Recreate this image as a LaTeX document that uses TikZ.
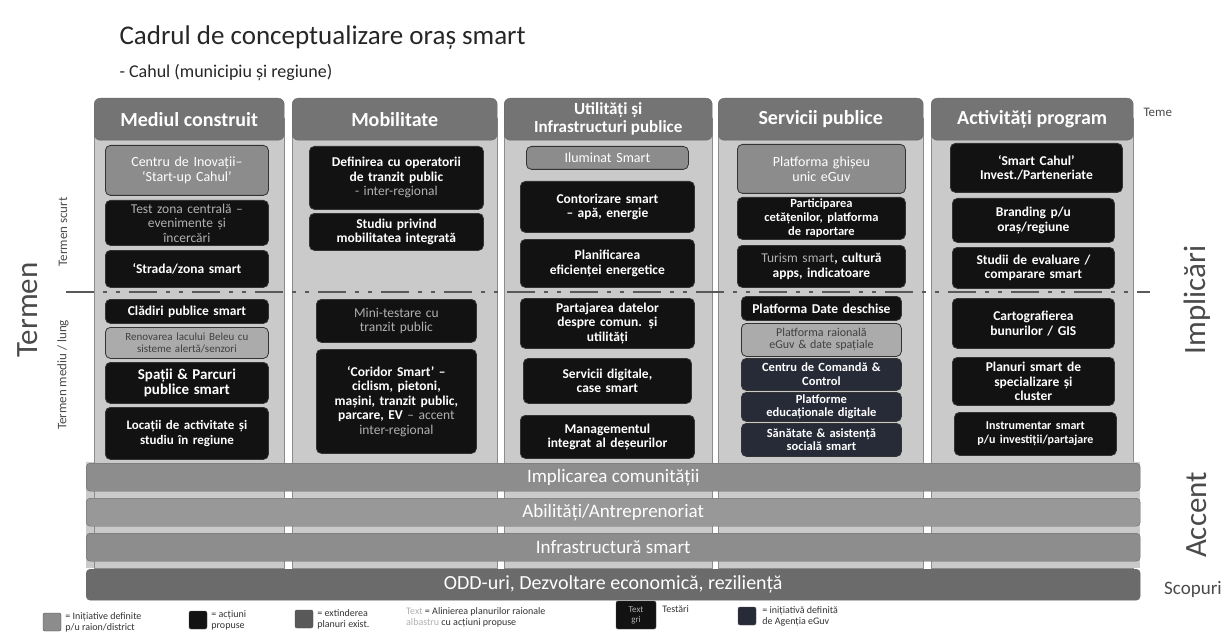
\documentclass[tikz,border=0pt]{standalone}
\usepackage{fontspec}
\setmainfont{Carlito}
\usetikzlibrary{positioning}

\definecolor{headgray}{HTML}{747474}
\definecolor{bodygray}{HTML}{CACACA}
\definecolor{initgray}{HTML}{8C8C8C}
\definecolor{paleinitgray}{HTML}{ABABAB}
\definecolor{actblack}{HTML}{121212}
\definecolor{eguvnavy}{HTML}{262B37}
\definecolor{aligntext}{HTML}{B0B0B0}
\definecolor{bargray}{HTML}{8D8D8D}
\definecolor{goalgray}{HTML}{6B6B6B}
\definecolor{labelgray}{HTML}{4A4A4A}

\tikzset{
  box/.style={rounded corners=5pt, draw=black!80, line width=0.8pt, align=center, inner sep=1pt,
    anchor=north west, text=white, font=\bfseries\fontsize{13.5}{14.5}\selectfont},
  actbox/.style={box, fill=actblack},
  testbox/.style={box, fill=actblack, text=aligntext, font=\fontsize{13.5}{14.5}\selectfont},
  initbox/.style={box, fill=initgray, font=\fontsize{14}{15}\selectfont},
  paleinit/.style={box, fill=paleinitgray, text=black!75, font=\fontsize{11}{12}\selectfont},
  eguvbox/.style={box, fill=eguvnavy, font=\bfseries\fontsize{12.5}{13.5}\selectfont},
  header/.style={rounded corners=6pt, fill=headgray, draw=black!60, text=white, anchor=north west,
    align=center, inner sep=1pt, font=\bfseries\fontsize{20}{21}\selectfont},
  accentbar/.style={rounded corners=4pt, draw=black!60, fill=bargray, text=white, anchor=north west,
    font=\fontsize{19}{20}\selectfont},
  sidelabel/.style={text=labelgray, font=\fontsize{31}{31}\selectfont},
  smalllabel/.style={text=labelgray, font=\fontsize{13}{13}\selectfont},
  termline/.style={draw=black!65, line width=2pt, dash pattern=on 28pt off 9pt on 4pt off 9pt on 4pt off 9pt},
  legsq/.style={rounded corners=2pt, draw=black!70, minimum size=18, inner sep=0pt},
  legtext/.style={align=left, text=black!80, inner sep=0pt, font=\fontsize{10}{11}\selectfont},
}

% style, nume, x, y, latime, inaltime, text
\newcommand{\planbox}[7]{%
  \node[#1, minimum width=#5, minimum height=#6, text width=#5-10] (#2) at (#3,#4) {#7};}

\begin{document}
\begin{tikzpicture}[x=1pt,y=-1pt]
    \pgfmathsetmacro{\headtop}{98}
    \pgfmathsetmacro{\headheight}{42}
    \pgfmathsetmacro{\panelbottom}{568}
    \pgfmathsetmacro{\barleft}{86}
    \pgfmathsetmacro{\barwidth}{1054}
    \pgfmathsetmacro{\barheight}{28}
    \useasboundingbox (0,0) rectangle (1228,639);

    \node[anchor=base west, text=black!85, font=\fontsize{27}{30}\selectfont] (titlu) at (116,45) {Cadrul de conceptualizare oraș smart};
    \node[anchor=base west, text=black!85, font=\fontsize{18}{22}\selectfont] (subtitlu) at (116,78) {- Cahul (municipiu și regiune)};

    % coloane
    \foreach \cl/\cr in {94/284, 292/497, 504/712, 718/923, 931/1133}
        \draw[black!45, fill=bodygray] (\cl,\headtop+20) rectangle (\cr,\panelbottom);
    \fill[bodygray] (\barleft,462) rectangle (94,\panelbottom);
    \fill[bodygray] (1133,462) rectangle (\barleft+\barwidth,\panelbottom);

    \node[header, minimum width=190, minimum height=\headheight] (hmediu) at (94,\headtop) {Mediul construit};
    \node[header, minimum width=205, minimum height=\headheight] (hmobil) at (292,\headtop) {Mobilitate};
    \node[header, minimum width=208, minimum height=\headheight, font=\bfseries\fontsize{17}{18}\selectfont] (hutil) at (504,\headtop) {Utilități și\\Infrastructuri publice};
    \node[header, minimum width=205, minimum height=\headheight] (hserv) at (718,\headtop) {Servicii publice};
    \node[header, minimum width=202, minimum height=\headheight] (hactiv) at (931,\headtop) {Activități program};

    \coordinate (termstart) at (66,292);
    \coordinate (termend) at (1150,292);
    \draw[termline] (termstart) -- (termend);

    \planbox{initbox}{inovatii}{105}{145}{163}{50}{Centru de Inovații–\\`Start-up Cahul'}
    \planbox{testbox}{testzona}{105}{200}{163}{45}{Test zona centrală –\\evenimente și\\încercări}
    \planbox{actbox}{strada}{105}{250}{163}{37}{`Strada/zona smart}
    \planbox{actbox}{cladiri}{105}{299}{163}{24}{Clădiri publice smart}
    \planbox{paleinit}{beleu}{105}{327}{163}{31}{Renovarea lacului Beleu cu\\sisteme alertă/senzori}
    \planbox{actbox}{parcuri}{105}{362}{163}{41}{\fontsize{15}{16}\selectfont Spații \& Parcuri\\publice smart}
    \planbox{actbox}{locatii}{105}{407}{163}{52}{\fontsize{13}{14.5}\selectfont Locații de activitate și\\studiu în regiune}

    \planbox{actbox}{operatori}{309}{146}{174}{63}{Definirea cu operatorii\\de tranzit public\\{\mdseries\color{aligntext}- inter-regional}}
    \planbox{actbox}{studiumob}{309}{213}{174}{37}{Studiu privind\\mobilitatea integrată}
    \planbox{testbox}{minitest}{316}{299}{160}{43}{Mini-testare cu\\tranzit public}
    \planbox{actbox}{coridor}{316}{349}{160}{104}{`Coridor Smart' –\\ciclism, pietoni,\\mașini, tranzit public,\\parcare, EV {\mdseries\color{aligntext}– accent\\inter-regional}}

    \planbox{initbox}{iluminat}{526}{146}{162}{23}{Iluminat Smart}
    \planbox{actbox}{contorizare}{520}{181}{174}{51}{Contorizare smart\\– apă, energie}
    \planbox{actbox}{eficienta}{520}{239}{174}{48}{Planificarea\\eficienței energetice}
    \planbox{actbox}{partajare}{520}{298}{174}{50}{Partajarea datelor\\despre comun. și\\utilități}
    \planbox{actbox}{digitale}{523}{358}{168}{45}{Servicii digitale,\\case smart}
    \planbox{actbox}{deseuri}{520}{415}{174}{43}{Managementul\\integrat al deșeurilor}

    \planbox{initbox}{ghiseu}{737}{144}{168}{49}{Platforma ghișeu\\unic eGuv}
    \planbox{actbox}{participare}{737}{197}{168}{42}{\fontsize{12.5}{13.5}\selectfont Participarea\\cetățenilor, platforma\\de raportare}
    \planbox{actbox}{turism}{737}{245}{168}{42}{{\mdseries\color{aligntext}Turism smart}, cultură\\apps, indicatoare}
    \planbox{actbox}{datedeschise}{741}{296}{160}{24}{Platforma Date deschise}
    \planbox{paleinit}{raionala}{741}{323}{160}{33}{\fontsize{12}{13}\selectfont Platforma raională\\eGuv \& date spațiale}
    \planbox{eguvbox}{comanda}{741}{358}{160}{32}{Centru de Comandă \&\\Control}
    \planbox{eguvbox}{educatie}{741}{392}{160}{29}{Platforme\\educaționale digitale}
    \planbox{eguvbox}{sanatate}{741}{423}{160}{33}{Sănătate \& asistență\\socială smart}

    \planbox{actbox}{investitii}{950}{143}{172}{49}{`Smart Cahul'\\Invest./Parteneriate}
    \planbox{actbox}{branding}{952}{198}{162}{44}{Branding p/u\\oraș/regiune}
    \planbox{actbox}{evaluare}{952}{247}{162}{41}{Studii de evaluare /\\comparare smart}
    \planbox{actbox}{gis}{952}{298}{162}{50}{Cartografierea\\bunurilor / GIS}
    \planbox{actbox}{cluster}{952}{357}{162}{48}{Planuri smart de\\specializare și\\cluster}
    \planbox{actbox}{instrumentar}{954}{412}{162}{43}{\fontsize{12}{13}\selectfont Instrumentar smart\\p/u investiții/partajare}

    % benzi accent si scopuri
    \node[accentbar, minimum width=\barwidth, minimum height=\barheight] (comunitate) at (\barleft,463) {Implicarea comunității};
    \node[accentbar, minimum width=\barwidth, minimum height=\barheight, fill=bargray!90!white] (abilitati) at (\barleft,498) {Abilități/Antreprenoriat};
    \node[accentbar, minimum width=\barwidth, minimum height=\barheight] (infrastructura) at (\barleft,533) {Infrastructură smart};
    \node[accentbar, minimum width=\barwidth, minimum height=31, fill=goalgray, font=\fontsize{20}{21}\selectfont] (odd) at (\barleft,569) {ODD-uri, Dezvoltare economică, reziliență};

    \node[sidelabel, rotate=90] (termen) at (28,310) {Termen};
    \node[smalllabel, rotate=90] (scurt) at (63,232) {Termen scurt};
    \node[smalllabel, rotate=90] (mediu) at (63,375) {Termen mediu / lung};
    \node[smalllabel, anchor=west] (teme) at (1140,112) {Teme};
    \node[sidelabel, rotate=90] (implicari) at (1197,300) {Implicări};
    \node[sidelabel, rotate=90] (accent) at (1197,515) {Accent};
    \node[text=labelgray, font=\fontsize{19}{19}\selectfont] (scopuri) at (1193,589) {Scopuri};

    % legenda
    \node[legsq, fill=initgray] (leg1) at (52,622) {};
    \node[legtext, right=4pt of leg1] (leg1t) {= Inițiative definite\\p/u raion/district};
    \node[legsq, fill=actblack] (leg2) at (198,620) {};
    \node[legtext, right=4pt of leg2] (leg2t) {= acțiuni\\propuse};
    \node[legsq, fill=black!65] (leg3) at (304,619) {};
    \node[legtext, right=4pt of leg3] (leg3t) {= extinderea\\planuri exist.};
    \node[legtext, anchor=west] (leg4t) at (406,617) {{\color{aligntext}Text} = Alinierea planurilor raionale\\{\color{aligntext}albastru} cu acțiuni propuse};
    \node[legsq, fill=actblack, minimum width=40, minimum height=28, text=aligntext, align=center, font=\fontsize{9}{10}\selectfont] (leg5) at (636,615) {Text\\gri};
    \node[legtext, anchor=north west] (leg5t) at ([xshift=6pt, yshift=-5pt]leg5.north east) {Testări};
    \node[legsq, fill=eguvnavy] (leg6) at (747,616) {};
    \node[legtext, right=6pt of leg6] (leg6t) {= inițiativă definită\\de Agenția eGuv};
\end{tikzpicture}
\end{document}
